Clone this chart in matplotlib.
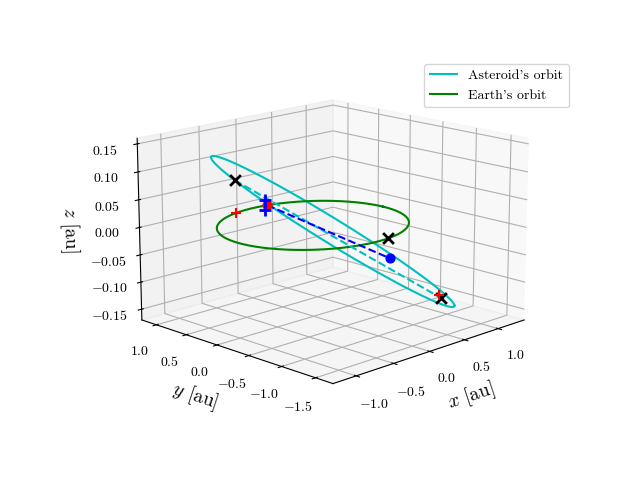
import numpy as np
import matplotlib
matplotlib.use("Agg")
import matplotlib.pyplot as plt

plt.rcParams["font.family"] = "serif"
plt.rcParams["font.serif"] = ["cmr10"]
plt.rcParams["mathtext.fontset"] = "cm"
plt.rcParams["axes.formatter.use_mathtext"] = True

# Orbital parameters
ast_a = 1.27
ast_e = 0.175
ast_z0 = 0.01
ast_slope_s = -0.11   # z slope along major axis
ast_slope_d = -0.03   # z slope along minor axis
earth_r = 1.0

# Marker points [x, y, z]
black_x = [[-0.27, 0.95, 0.062], [0.14, -0.99, 0.0], [0.52, -1.38, -0.108]]
red_plus = [[-0.23, 0.98, 0.0], [0.50, -1.37, -0.103]]
red_dot = [0.20, 0.98, 0.0]
blue_dot = [-0.22, -1.39, -0.01]
blue_plus = [[0.15, 0.96, 0.012], [0.15, 0.96, -0.006]]

th = np.linspace(0, 2*np.pi, 400)
b = ast_a*np.sqrt(1-ast_e**2)
s = ast_a*ast_e + ast_a*np.cos(th)
d = b*np.sin(th)
ax_x = (s + d)/np.sqrt(2)
ax_y = (d - s)/np.sqrt(2)
ax_z = ast_z0 + ast_slope_s*s + ast_slope_d*d

fig = plt.figure(figsize=(6.4, 4.8), dpi=100)
ax = fig.add_subplot(111, projection="3d")
ax.set_position([0.125, 0.125, 0.775, 0.77])
ax.plot(ax_x, ax_y, ax_z, color="c", label="Asteroid's orbit")
ax.plot(earth_r*np.cos(th), earth_r*np.sin(th), 0*th, color="g", label="Earth's orbit")
cd = np.array([black_x[0], black_x[2]])
ax.plot(cd[:, 0], cd[:, 1], cd[:, 2], "c--")
bl = np.array([red_dot, blue_dot])
ax.plot(bl[:, 0], bl[:, 1], bl[:, 2], "b--")
for p in black_x:
    ax.scatter(*p, color="k", marker="x", s=60, linewidths=2, depthshade=False)
for p in red_plus:
    ax.scatter(*p, color="r", marker="+", s=60, linewidths=1.5, depthshade=False)
ax.scatter(*red_dot, color="r", s=40, depthshade=False)
ax.scatter(*blue_dot, color="b", s=40, depthshade=False)
for p in blue_plus:
    ax.scatter(*p, color="b", marker="+", s=80, linewidths=2, depthshade=False)

ax.set_xlim(-1.3, 1.4)
ax.set_ylim(-1.75, 1.25)
ax.set_zlim(-0.17, 0.16)
ax.set_xticks([-1.0, -0.5, 0.0, 0.5, 1.0])
ax.set_yticks([-1.5, -1.0, -0.5, 0.0, 0.5, 1.0])
ax.set_zticks([-0.15, -0.10, -0.05, 0.0, 0.05, 0.10, 0.15])
ax.set_xlabel("$x$ [au]", fontsize=14)
ax.set_ylabel("$y$ [au]", fontsize=14)
ax.set_zlabel("$z$ [au]", fontsize=14)
ax.view_init(elev=15, azim=-135)
ax.set_box_aspect((4, 4, 2.75), zoom=1.13)
fig.legend(*ax.get_legend_handles_labels(), loc="upper left",
           bbox_to_anchor=(417/640, 1-57/480))
fig.savefig("out.png")
